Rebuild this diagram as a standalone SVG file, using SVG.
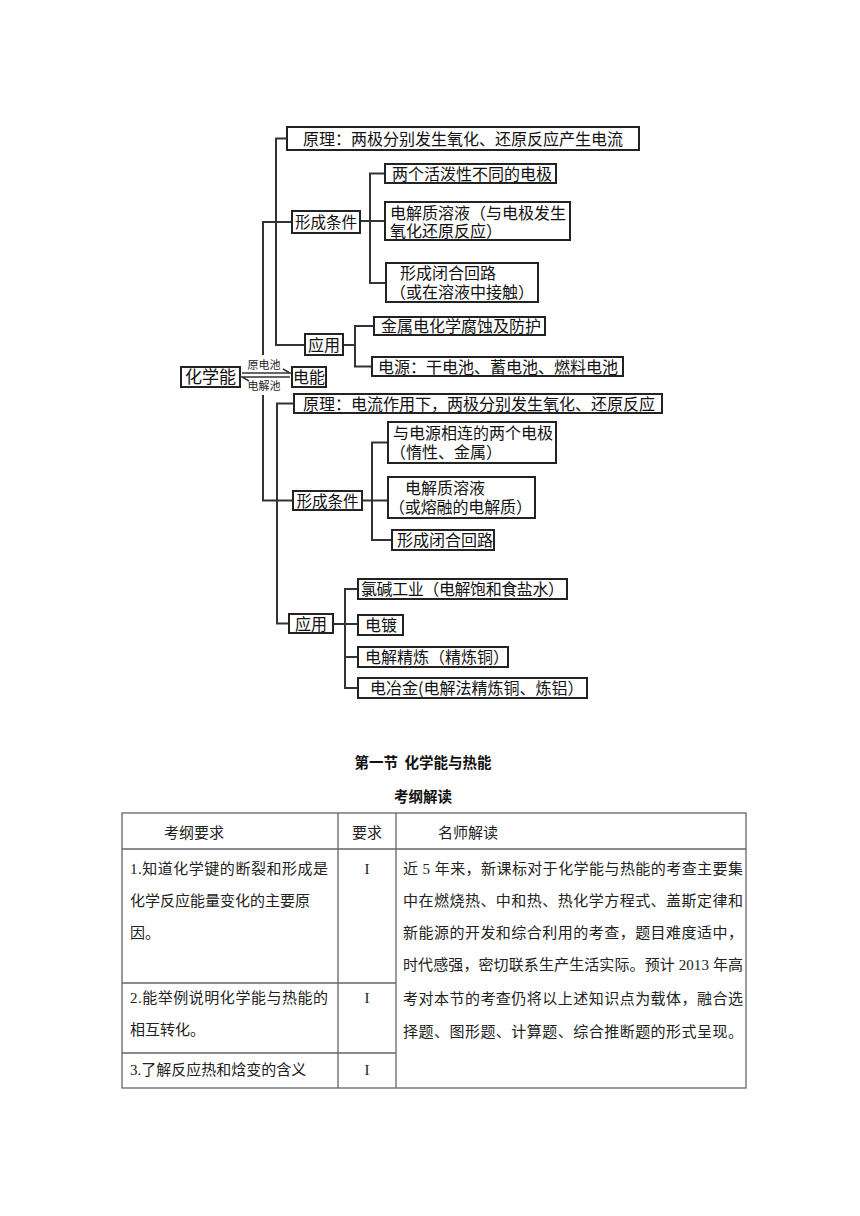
<svg xmlns="http://www.w3.org/2000/svg" width="860" height="1216" viewBox="0 0 860 1216">
<style>
.bx{fill:#fff;stroke:#222;stroke-width:2}
.t{font-family:"Noto Sans CJK SC","Noto Sans",sans-serif;font-size:16px;fill:#111}
.tc{text-anchor:middle}
.ln{fill:none;stroke:#333;stroke-width:2}
.sm{font-family:"Noto Sans CJK SC",sans-serif;font-size:11px;fill:#222;text-anchor:middle}
.tb{fill:none;stroke:#666;stroke-width:1.3}
.tt{font-family:"Liberation Serif","Noto Sans CJK SC",serif;font-size:15px;fill:#222}
.hd{font-family:"Noto Sans CJK SC",sans-serif;font-size:14.5px;font-weight:bold;fill:#111;text-anchor:middle}
</style>
<rect width="860" height="1216" fill="#fff"/>
<g id="connectors">
<path class="ln" d="M287,138.5 H276 V345 H305"/>
<path class="ln" d="M292,222 H263 V355"/>
<path class="ln" d="M360,221 H385 M385,173.5 H370 V283 H386"/>
<path class="ln" d="M343,345 H355 M374,326 H355 V366.5 H372"/>
<path class="ln" d="M263,395 V500.5 H293"/>
<path class="ln" d="M294,403.5 H277 V623.5 H289"/>
<path class="ln" d="M362,500.5 H388 M388,442.5 H372 V540 H392"/>
<path class="ln" d="M333,624 H358 M358,589 H345 V688 H358 M345,657 H358"/>
<path fill="none" stroke="#333" stroke-width="1.5" d="M242,373 H290 L283,369"/>
<path fill="none" stroke="#333" stroke-width="1.5" d="M290,377 H242 L249,381"/>
</g>
<text class="sm" x="264" y="369">原电池</text>
<text class="sm" x="264" y="390">电解池</text>
<g id="n-huaxueneng"><rect class="bx" x="181" y="367" width="59" height="20"/><text class="t tc" x="210.5" y="383" style="font-size:17px">化学能</text></g>
<g id="n-dianneng"><rect class="bx" x="292" y="367" width="34" height="20"/><text class="t tc" x="309" y="383">电能</text></g>
<g id="n-yuanli1"><rect class="bx" x="287" y="127" width="352" height="23"/><text class="t" x="303" y="144.5">原理：两极分别发生氧化、还原反应产生电流</text></g>
<g id="n-tiaojian1"><rect class="bx" x="292" y="211" width="68" height="22"/><text class="t tc" x="326" y="228" style="font-size:15.5px">形成条件</text></g>
<g id="n-b1"><rect class="bx" x="385" y="164" width="171" height="19"/><text class="t" x="392" y="179.5">两个活泼性不同的电极</text></g>
<g id="n-b2"><rect class="bx" x="385" y="202" width="185" height="38"/><text class="t" x="390" y="219">电解质溶液（与电极发生</text><text class="t" x="390" y="237">氧化还原反应）</text></g>
<g id="n-b3"><rect class="bx" x="386" y="263" width="152" height="39"/><text class="t" x="400" y="279">形成闭合回路</text><text class="t" x="390" y="298">（或在溶液中接触）</text></g>
<g id="n-yingyong1"><rect class="bx" x="305" y="334" width="38" height="21"/><text class="t tc" x="324" y="350.5">应用</text></g>
<g id="n-fushi"><rect class="bx" x="374" y="317" width="171" height="18"/><text class="t" x="381" y="332">金属电化学腐蚀及防护</text></g>
<g id="n-dianyuan"><rect class="bx" x="372" y="357" width="251" height="19"/><text class="t" x="378" y="372.5">电源：干电池、蓄电池、燃料电池</text></g>
<g id="n-yuanli2"><rect class="bx" x="294" y="394" width="368" height="19"/><text class="t" x="303" y="409.5">原理：电流作用下，两极分别发生氧化、还原反应</text></g>
<g id="n-tiaojian2"><rect class="bx" x="293" y="491" width="69" height="19"/><text class="t tc" x="327.5" y="506.5" style="font-size:15.5px">形成条件</text></g>
<g id="n-c1"><rect class="bx" x="388" y="422" width="168" height="41"/><text class="t" x="393" y="439">与电源相连的两个电极</text><text class="t" x="390" y="458">（惰性、金属）</text></g>
<g id="n-c2"><rect class="bx" x="388" y="477" width="147" height="41"/><text class="t" x="405" y="494">电解质溶液</text><text class="t" x="389" y="513" textLength="143">（或熔融的电解质）</text></g>
<g id="n-c3"><rect class="bx" x="392" y="530" width="102" height="20"/><text class="t" x="397" y="546">形成闭合回路</text></g>
<g id="n-yingyong2"><rect class="bx" x="289" y="614" width="44" height="19"/><text class="t tc" x="311" y="629.5">应用</text></g>
<g id="n-lujian"><rect class="bx" x="358" y="579" width="209" height="20"/><text class="t" x="361" y="595" textLength="203">氯碱工业（电解饱和食盐水）</text></g>
<g id="n-diandu"><rect class="bx" x="358" y="615" width="45" height="20"/><text class="t" x="365" y="631">电镀</text></g>
<g id="n-jinglian"><rect class="bx" x="358" y="647" width="150" height="20"/><text class="t" x="365" y="663">电解精炼（精炼铜）</text></g>
<g id="n-yejin"><rect class="bx" x="358" y="678" width="229" height="20"/><text class="t" x="370" y="694">电冶金(电解法精炼铜、炼铝）</text></g>
<g id="title">
<text class="hd" x="423" y="768" word-spacing="3">第一节 化学能与热能</text>
<text class="hd" x="423" y="802">考纲解读</text>
</g>
<g id="table">
<rect class="tb" x="122" y="813" width="624" height="275"/>
<path class="tb" d="M122,849 H746 M338,813 V1088 M396,813 V1088 M122,983 H396 M122,1053 H396"/>
<text class="tt" x="194" y="838" text-anchor="middle">考纲要求</text>
<text class="tt" x="367" y="838" text-anchor="middle">要求</text>
<text class="tt" x="438" y="838">名师解读</text>
<text class="tt" x="130" y="874" textLength="198">1.知道化学键的断裂和形成是</text>
<text class="tt" x="130" y="906">化学反应能量变化的主要原</text>
<text class="tt" x="130" y="938">因。</text>
<text class="tt" x="130" y="1003" textLength="198">2.能举例说明化学能与热能的</text>
<text class="tt" x="130" y="1035">相互转化。</text>
<text class="tt" x="130" y="1075">3.了解反应热和焓变的含义</text>
<text class="tt" x="367" y="874" text-anchor="middle">I</text>
<text class="tt" x="367" y="1003" text-anchor="middle">I</text>
<text class="tt" x="367" y="1075" text-anchor="middle">I</text>
<text class="tt" x="403" y="874" textLength="340">近 5 年来，新课标对于化学能与热能的考查主要集</text>
<text class="tt" x="403" y="906" textLength="340">中在燃烧热、中和热、热化学方程式、盖斯定律和</text>
<text class="tt" x="403" y="938" textLength="340">新能源的开发和综合利用的考查，题目难度适中，</text>
<text class="tt" x="403" y="970" textLength="340">时代感强，密切联系生产生活实际。预计 2013 年高</text>
<text class="tt" x="403" y="1004" textLength="340">考对本节的考查仍将以上述知识点为载体，融合选</text>
<text class="tt" x="403" y="1037" textLength="340">择题、图形题、计算题、综合推断题的形式呈现。</text>
</g>
</svg>
